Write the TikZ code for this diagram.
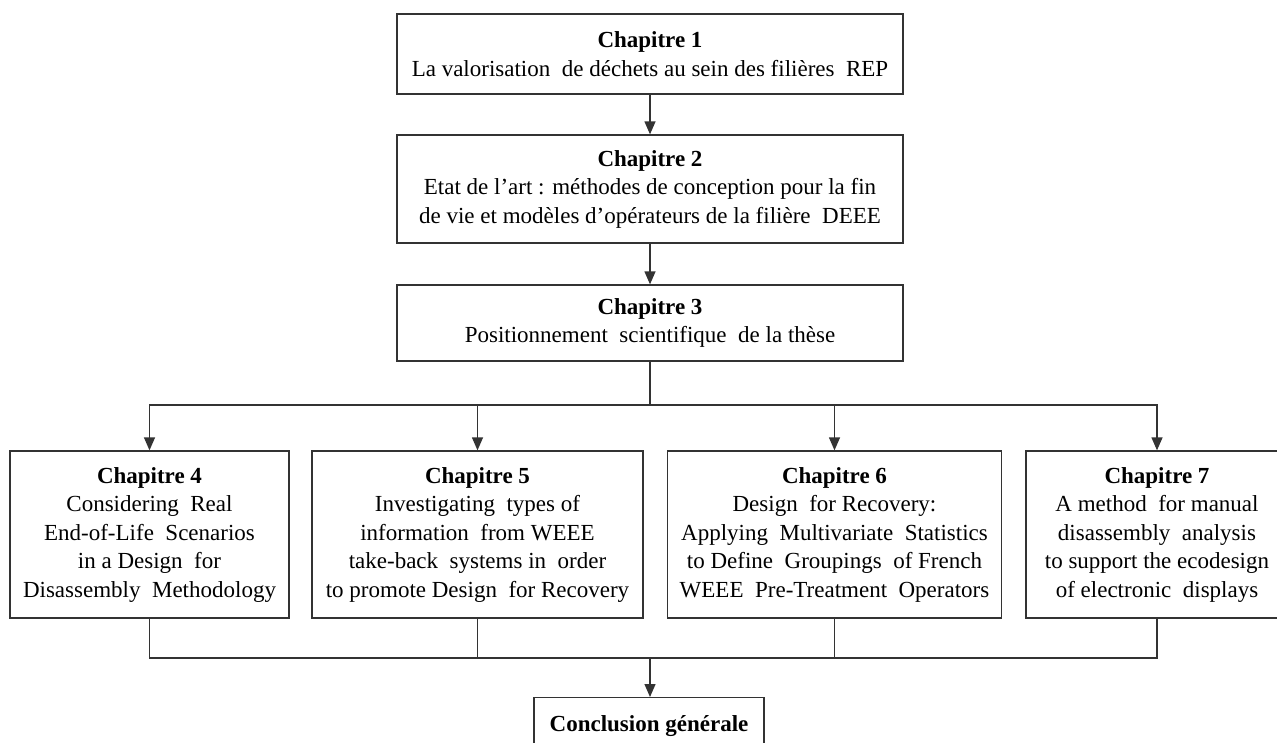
\documentclass[tikz,border=0pt]{standalone}
\usepackage{fontspec}
\setmainfont{Liberation Serif}
\usetikzlibrary{arrows.meta}
\tikzset{
  box/.style={draw=black!80, line width=1.3pt, fill=white, inner sep=0pt, align=center,
    font=\fontsize{23}{28.5}\selectfont},
  link/.style={draw=black!80, line width=1.3pt},
  arr/.style={link, -{Triangle[length=13pt,width=11pt]}},
}
\begin{document}
\begin{tikzpicture}[x=1pt,y=-1pt]
\useasboundingbox (0,0) rectangle (1277,742);
\node[box, minimum width=506pt, minimum height=80pt] (b1) at (650,54)
  {\textbf{Chapitre 1}\\La valorisation~ de déchets au sein des filières~ REP};
\node[box, minimum width=506pt, minimum height=108pt] (b2) at (650,189)
  {\textbf{Chapitre 2}\\Etat de l’art : méthodes de conception pour la fin\\de vie et modèles d’opérateurs de la filière~ DEEE};
\node[box, minimum width=506pt, minimum height=76pt] (b3) at (650,323)
  {\textbf{Chapitre 3}\\Positionnement~ scientifique~ de la thèse};
\node[box, minimum width=279pt, minimum height=167pt] (b4) at (149.5,534.5)
  {\textbf{Chapitre 4}\\Considering~ Real\\End-of-Life~ Scenarios\\in a Design~ for\\Disassembly~ Methodology};
\node[box, minimum width=331pt, minimum height=167pt] (b5) at (477.5,534.5)
  {\textbf{Chapitre 5}\\Investigating~ types of\\information~ from WEEE\\take-back~ systems in~ order\\to promote Design~ for Recovery};
\node[box, minimum width=334pt, minimum height=167pt] (b6) at (834.5,534.5)
  {\textbf{Chapitre 6}\\Design~ for Recovery:\\Applying~ Multivariate~ Statistics\\to Define~ Groupings~ of French\\WEEE~ Pre-Treatment~ Operators};
\node[box, minimum width=262pt, minimum height=167pt] (b7) at (1157,534.5)
  {\textbf{Chapitre 7}\\A method~ for manual\\disassembly~ analysis\\to support the ecodesign\\of electronic~ displays};
\node[box, minimum width=230pt, minimum height=56pt, anchor=north] (c) at (649,697)
  {\textbf{Conclusion générale}};
\draw[arr] (b1) -- (b2);
\draw[arr] (b2) -- (b3);
\coordinate (s) at (650,405);
\coordinate (m) at (650,658);
\draw[link] (b3) -- (s);
\draw[arr] (s) -| (b4.north);
\draw[arr] (s) -| (b5.north);
\draw[arr] (s) -| (b6.north);
\draw[arr] (s) -| (b7.north);
\draw[link] (b4.south) |- (m);
\draw[link] (b5.south) |- (m);
\draw[link] (b6.south) |- (m);
\draw[link] (b7.south) |- (m);
\draw[arr] (m) -- (m |- c.north);
\end{tikzpicture}
\end{document}
